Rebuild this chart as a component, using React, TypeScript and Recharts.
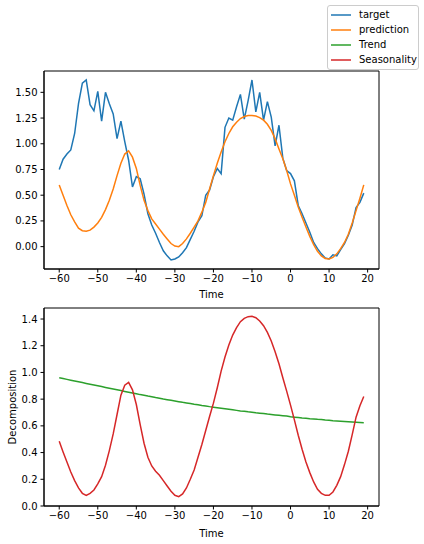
import React from "react";
import { LineChart, Line, XAxis, YAxis, Legend, ReferenceArea } from "recharts";

// x values (Time)
const TIME = [
  -60, -59, -58, -57, -56, -55, -54, -53, -52, -51, -50, -49, -48, -47, -46, -45, -44, -43, -42, -41,
  -40, -39, -38, -37, -36, -35, -34, -33, -32, -31, -30, -29, -28, -27, -26, -25, -24, -23, -22, -21,
  -20, -19, -18, -17, -16, -15, -14, -13, -12, -11, -10, -9, -8, -7, -6, -5, -4, -3, -2, -1,
  0, 1, 2, 3, 4, 5, 6, 7, 8, 9, 10, 11, 12, 13, 14, 15, 16, 17, 18, 19,
];

const TARGET = [
  0.75, 0.85, 0.9, 0.94, 1.1, 1.39, 1.59, 1.62, 1.38, 1.32, 1.51, 1.22, 1.5, 1.39, 1.29, 1.05, 1.22, 1.02, 0.84, 0.58,
  0.68, 0.66, 0.51, 0.32, 0.21, 0.13, 0.04, -0.04, -0.09, -0.13, -0.12, -0.1, -0.06, -0.01, 0.07, 0.15, 0.24, 0.3, 0.5, 0.55,
  0.68, 0.76, 0.71, 1.16, 1.25, 1.23, 1.36, 1.48, 1.24, 1.42, 1.62, 1.31, 1.5, 1.23, 1.41, 1.26, 0.98, 1.18, 0.86, 0.74,
  0.71, 0.64, 0.4, 0.32, 0.23, 0.14, 0.04, -0.02, -0.07, -0.11, -0.12, -0.08, -0.09, -0.03, 0.03, 0.11, 0.21, 0.38, 0.43, 0.52,
];

const PREDICTION = [
  0.6, 0.5, 0.4, 0.31, 0.24, 0.18, 0.155, 0.15, 0.16, 0.19, 0.23, 0.285, 0.36, 0.45, 0.56, 0.69, 0.81, 0.9, 0.93, 0.87,
  0.76, 0.595, 0.45, 0.35, 0.27, 0.22, 0.17, 0.12, 0.075, 0.03, 0.005, 0.0, 0.03, 0.075, 0.13, 0.19, 0.25, 0.335, 0.43, 0.56,
  0.69, 0.81, 0.92, 1.02, 1.1, 1.165, 1.21, 1.245, 1.265, 1.275, 1.275, 1.27, 1.255, 1.23, 1.19, 1.13, 1.05, 0.95, 0.855, 0.74,
  0.61, 0.5, 0.385, 0.285, 0.19, 0.1, 0.02, -0.045, -0.09, -0.115, -0.12, -0.105, -0.07, -0.02, 0.04, 0.12, 0.23, 0.35, 0.47, 0.6,
];

const TREND = [
  0.96, 0.954, 0.948, 0.942, 0.936, 0.93, 0.924, 0.918, 0.912, 0.906, 0.9, 0.894, 0.888, 0.882, 0.876, 0.87, 0.864, 0.858, 0.852, 0.846,
  0.84, 0.834, 0.829, 0.823, 0.818, 0.812, 0.807, 0.801, 0.796, 0.791, 0.786, 0.781, 0.776, 0.772, 0.767, 0.762, 0.758, 0.753, 0.749, 0.744,
  0.74, 0.736, 0.732, 0.728, 0.724, 0.72, 0.716, 0.712, 0.709, 0.705, 0.702, 0.698, 0.695, 0.692, 0.688, 0.685, 0.682, 0.679, 0.676, 0.673,
  0.668, 0.665, 0.662, 0.659, 0.657, 0.654, 0.652, 0.649, 0.647, 0.644, 0.642, 0.639, 0.637, 0.635, 0.633, 0.631, 0.629, 0.627, 0.625, 0.623,
];

const SEASONALITY = [
  0.485, 0.405, 0.33, 0.255, 0.19, 0.135, 0.095, 0.08, 0.095, 0.12, 0.165, 0.22, 0.305, 0.415, 0.54, 0.685, 0.83, 0.905, 0.925, 0.87,
  0.76, 0.61, 0.47, 0.365, 0.3, 0.26, 0.23, 0.19, 0.15, 0.11, 0.08, 0.07, 0.09, 0.135, 0.2, 0.27, 0.365, 0.46, 0.565, 0.67,
  0.77, 0.885, 1.01, 1.115, 1.205, 1.28, 1.335, 1.38, 1.405, 1.4175, 1.42, 1.41, 1.385, 1.35, 1.3, 1.235, 1.155, 1.065, 0.96, 0.86,
  0.755, 0.645, 0.53, 0.425, 0.33, 0.25, 0.18, 0.125, 0.095, 0.08, 0.08, 0.105, 0.155, 0.22, 0.31, 0.41, 0.535, 0.665, 0.75, 0.82,
];

const X_TICKS = [-60, -50, -40, -30, -20, -10, 0, 10, 20];
const TOP_Y_TICKS = [0, 0.25, 0.5, 0.75, 1.0, 1.25, 1.5];
const BOTTOM_Y_TICKS = [0, 0.2, 0.4, 0.6, 0.8, 1.0, 1.2, 1.4];

const LEGEND_ITEMS = [
  { name: "target", color: "#1f77b4" },
  { name: "prediction", color: "#ff7f0e" },
  { name: "Trend", color: "#2ca02c" },
  { name: "Seasonality", color: "#d62728" },
];

const topData = TIME.map((t, i) => ({ time: t, target: TARGET[i], prediction: PREDICTION[i] }));
const bottomData = TIME.map((t, i) => ({ time: t, trend: TREND[i], seasonality: SEASONALITY[i] }));

const FONT = "'DejaVu Sans', sans-serif";
const X_DOMAIN: [number, number] = [-63.95, 22.95];
const TOP_Y_DOMAIN: [number, number] = [-0.2175, 1.7075];
const BOTTOM_Y_DOMAIN: [number, number] = [0, 1.4825];
const tickStyle = { fill: "#000", fontSize: 10, fontFamily: FONT };
const labelStyle = { fill: "#000", fontSize: 10, fontFamily: FONT };
const minus = (v: number, digits: number) => v.toFixed(digits).replace("-", "\u2212");

const LegendBox = () => (
  <div
    style={{
      border: "1px solid #cccccc",
      borderRadius: 3,
      background: "rgba(255,255,255,0.8)",
      padding: "1px 4px 2px 3px",
      fontFamily: FONT,
      fontSize: 10,
      color: "#000",
      boxSizing: "border-box",
    }}
  >
    {LEGEND_ITEMS.map((it) => (
      <div key={it.name} style={{ display: "flex", alignItems: "center", height: 15 }}>
        <svg width={28} height={4} style={{ flexShrink: 0 }}>
          <line x1={0} x2={20} y1={2} y2={2} stroke={it.color} strokeWidth={1.5} />
        </svg>
        {it.name}
      </div>
    ))}
  </div>
);

// plain matplotlib-like box around the plot area
const frame = (y: [number, number]) => (
  <ReferenceArea x1={X_DOMAIN[0]} x2={X_DOMAIN[1]} y1={y[0]} y2={y[1]} fill="none" stroke="#000" strokeWidth={1} ifOverflow="visible" />
);

const App = () => (
  <div style={{ position: "absolute", left: 0, top: 0, width: 424, height: 544, background: "#fff" }}>
    <div style={{ position: "absolute", left: 0, top: 0 }}>
      <LineChart width={424} height={300} data={topData} margin={{ top: 71, right: 45, left: 0, bottom: 0 }}>
        <XAxis
          dataKey="time"
          type="number"
          domain={X_DOMAIN}
          ticks={X_TICKS}
          tickFormatter={(v) => minus(v, 0)}
          tick={tickStyle}
          tickSize={3.5}
          tickMargin={2}
          stroke="#000"
          height={31}
          allowDataOverflow
          label={{ value: "Time", position: "insideBottom", offset: 2, style: labelStyle }}
        />
        <YAxis
          type="number"
          domain={TOP_Y_DOMAIN}
          ticks={TOP_Y_TICKS}
          tickFormatter={(v) => minus(v, 2)}
          tick={tickStyle}
          tickSize={3.5}
          tickMargin={3}
          stroke="#000"
          width={44}
          allowDataOverflow
        />
        {frame(TOP_Y_DOMAIN)}
        <Line type="linear" dataKey="target" stroke="#1f77b4" strokeWidth={1.5} dot={false} activeDot={false} isAnimationActive={false} />
        <Line type="linear" dataKey="prediction" stroke="#ff7f0e" strokeWidth={1.5} dot={false} activeDot={false} isAnimationActive={false} />
        <Legend
          layout="vertical"
          align="center"
          verticalAlign="middle"
          content={<LegendBox />}
          wrapperStyle={{ top: 5, left: 327, width: 92, height: 63 }}
        />
      </LineChart>
    </div>
    <div style={{ position: "absolute", left: 0, top: 300 }}>
      <LineChart width={424} height={244} data={bottomData} margin={{ top: 8, right: 45, left: 0, bottom: 0 }}>
        <XAxis
          dataKey="time"
          type="number"
          domain={X_DOMAIN}
          ticks={X_TICKS}
          tickFormatter={(v) => minus(v, 0)}
          tick={tickStyle}
          tickSize={3.5}
          tickMargin={2}
          stroke="#000"
          height={38}
          allowDataOverflow
          label={{ value: "Time", position: "insideBottom", offset: 7, style: labelStyle }}
        />
        <YAxis
          type="number"
          domain={BOTTOM_Y_DOMAIN}
          ticks={BOTTOM_Y_TICKS}
          tickFormatter={(v) => minus(v, 1)}
          tick={tickStyle}
          tickSize={3.5}
          tickMargin={3}
          stroke="#000"
          width={44}
          allowDataOverflow
          label={{
            value: "Decomposition",
            angle: -90,
            position: "insideLeft",
            offset: 12,
            style: { ...labelStyle, textAnchor: "middle" },
          }}
        />
        {frame(BOTTOM_Y_DOMAIN)}
        <Line type="linear" dataKey="trend" stroke="#2ca02c" strokeWidth={1.5} dot={false} activeDot={false} isAnimationActive={false} />
        <Line type="linear" dataKey="seasonality" stroke="#d62728" strokeWidth={1.5} dot={false} activeDot={false} isAnimationActive={false} />
      </LineChart>
    </div>
  </div>
);

export default App;
